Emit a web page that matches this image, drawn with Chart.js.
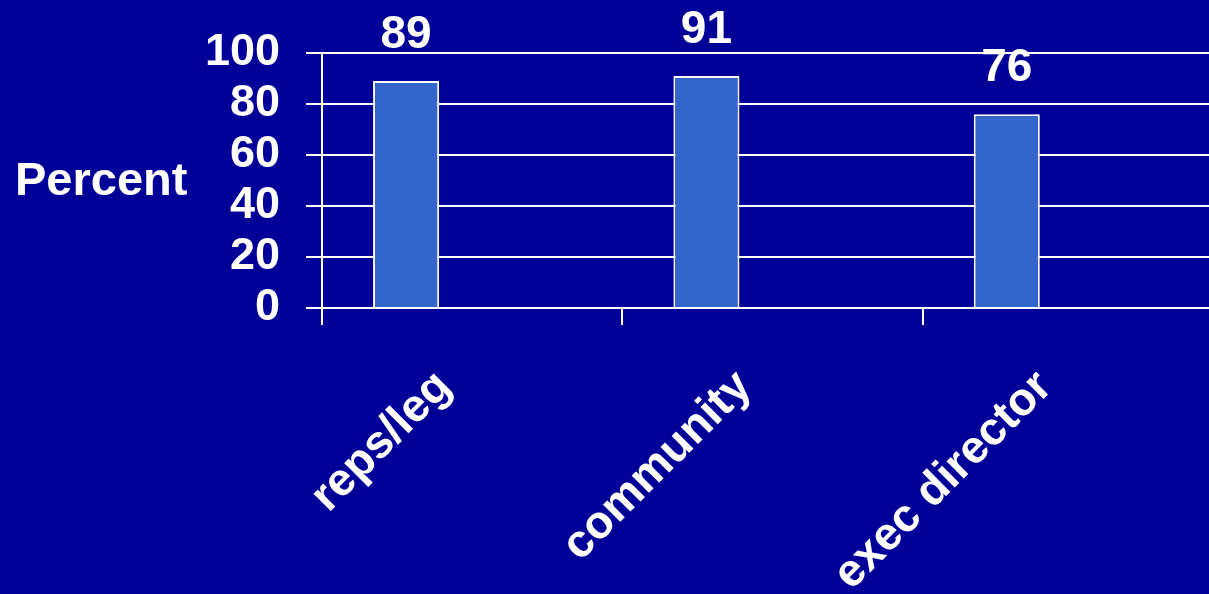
<!DOCTYPE html>
<html>
<head>
<meta charset="utf-8">
<script src="https://cdn.jsdelivr.net/npm/chart.js@4/dist/chart.umd.min.js"></script>
<style>
  html, body { margin: 0; padding: 0; background: #000099; overflow: hidden; }
  #wrap { width: 1224px; height: 594px; }
</style>
</head>
<body>
<div id="wrap"><canvas id="c" width="1224" height="594"></canvas></div>
<script>
const categories = ['reps/leg', 'community', 'exec director'];
const percentValues = [89, 91, 76];
const emptySeriesA = [null, null, null];
const emptySeriesB = [null, null, null];
const yTicks = [0, 20, 40, 60, 80, 100];
const yTitle = 'Percent';

const FONT = '"Liberation Sans", Arial, Helvetica, sans-serif';
const WHITE = '#ffffff';

const overlay = {
  id: 'overlay',
  afterDatasetsDraw(chart) {
    const ctx = chart.ctx;
    ctx.save();
    ctx.fillStyle = WHITE;
    ctx.font = 'bold 46px ' + FONT;
    ctx.textAlign = 'center';
    ctx.textBaseline = 'alphabetic';
    const meta = chart.getDatasetMeta(0);
    meta.data.forEach((bar, i) => {
      ctx.fillText(String(percentValues[i]), bar.x, bar.y - 33);
    });
    ctx.font = 'bold 47px ' + FONT;
    ctx.textAlign = 'left';
    ctx.fillText(yTitle, 15, 195);
    ctx.restore();
  }
};

new Chart(document.getElementById('c'), {
  type: 'bar',
  data: {
    labels: categories,
    datasets: [
      { label: 'Percent', data: percentValues, backgroundColor: '#3366CC', borderColor: WHITE, borderWidth: 2, borderSkipped: 'bottom' },
      { label: '', data: emptySeriesA, backgroundColor: '#3366CC' },
      { label: '', data: emptySeriesB, backgroundColor: '#3366CC' }
    ]
  },
  options: {
    responsive: false,
    animation: false,
    categoryPercentage: 0.66,
    barPercentage: 1,
    layout: { padding: { top: 51, right: 1, left: 0, bottom: 0 } },
    plugins: { legend: { display: false }, tooltip: { enabled: false } },
    scales: {
      x: {
        offset: true,
        grid: { offset: true, drawOnChartArea: false, drawTicks: true, tickLength: 17, color: WHITE, lineWidth: 2 },
        border: { display: true, color: WHITE, width: 2 },
        ticks: { color: WHITE, font: { family: FONT, size: 46, weight: 'bold' }, maxRotation: 45, minRotation: 45, autoSkip: false, padding: 35, labelOffset: -28 },
        afterFit(scale) { scale.height = 286; }
      },
      y: {
        min: 0, max: 100,
        afterBuildTicks(scale) { scale.ticks = yTicks.map(v => ({ value: v })); },
        grid: { color: WHITE, lineWidth: 2, drawTicks: true, tickLength: 16 },
        border: { display: true, color: WHITE, width: 2 },
        ticks: { color: WHITE, font: { family: FONT, size: 45, weight: 'bold' }, padding: 26, autoSkip: false },
        afterFit(scale) { scale.width = 322; }
      }
    }
  },
  plugins: [overlay]
});
</script>
</body>
</html>
